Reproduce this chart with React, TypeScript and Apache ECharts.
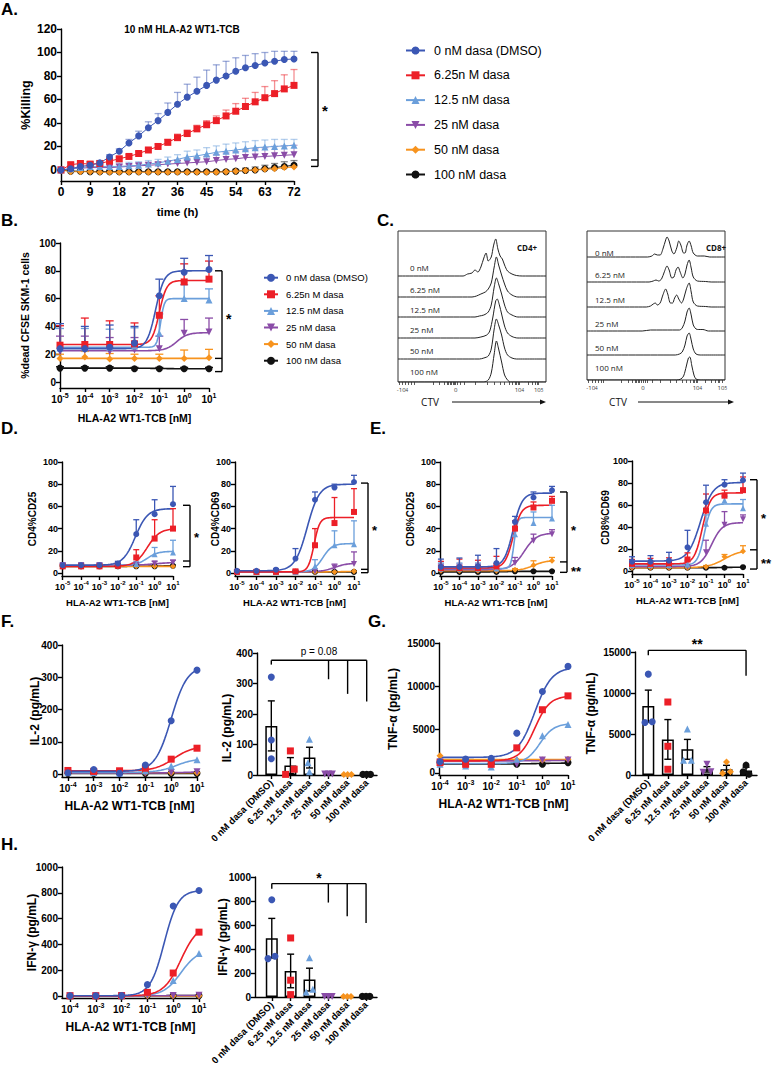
import React, { useEffect, useRef } from "react";
import * as echarts from "echarts";

const FONT = "'Liberation Sans', Arial, Helvetica, sans-serif";
const FLOW_FONT = "'Open Sans', 'Noto Sans', sans-serif";

// ---------- groups ----------
const GROUP_NAMES = ["0 nM dasa (DMSO)", "6.25n M dasa", "12.5 nM dasa", "25 nM dasa", "50 nM dasa", "100 nM dasa"];
const GROUP_COLORS = ["#3b57b4", "#ec1f27", "#6b9fdb", "#8a4ca7", "#f7931e", "#111111"];
const GROUP_SYMBOLS = ["circle", "rect", "triangle", "triangle", "diamond", "circle"];
const GROUP_ROTATE = [0, 0, 0, 180, 0, 0];
const BAR_CATEGORIES = ["0 nM dasa (DMSO)", "6.25 nM dasa", "12.5 nM dasa", "25 nM dasa", "50 nM dasa", "100 nM dasa"];

// ---------- A: killing over time ----------
const TIME_H = [0, 3, 6, 9, 12, 15, 18, 21, 24, 27, 30, 33, 36, 39, 42, 45, 48, 51, 54, 57, 60, 63, 66, 69, 72];
const TIME_TICKS = [0, 9, 18, 27, 36, 45, 54, 63, 72];
const KILL_TICKS = [0, 20, 40, 60, 80, 100, 120];
const KILL_MEAN = [
  [0, 1, 3, 4, 6, 11, 16, 23, 29, 36, 42, 49, 56, 62, 67, 72, 76.5, 80, 84, 87, 89, 91, 92.5, 94, 94.5],
  [0, 4.5, 5.5, 5, 5.5, 7.5, 9.5, 11.5, 14, 17, 20, 23.5, 27.5, 31, 35, 38.5, 42, 46, 50, 54, 58, 61.5, 65, 69, 72],
  [0, 1, 2, 3, 3, 3, 3, 3.5, 4, 5, 6, 7.5, 9, 11, 12, 13.5, 15, 16, 17, 18, 19, 19.5, 20, 20.5, 21],
  [0, 1, 1.5, 2, 2, 2, 2.5, 3, 3.5, 4, 4.5, 5, 5.5, 6, 6.5, 7, 8, 9, 9.5, 10.5, 11, 11.5, 12, 12.5, 13],
  [0, -1.5, -1.5, -1.5, -2, -2, -2, -2, -2, -2, -2, -2, -2, -2, -2, -2, -2, -1.5, -1, -0.5, 0, 0.5, 1, 2, 2.5],
  [0, -1, -1, -1.5, -1.5, -1.5, -1.5, -1.5, -1.5, -1.5, -1.5, -1.5, -1.5, -1.5, -1.5, -1.5, -1.5, -1.5, -1, -0.5, 0, 1, 2, 3, 4],
];
const KILL_SD = [
  [0, 2, 3, 3, 2, 2, 2, 3, 4, 5, 6, 8, 10, 11, 12, 13, 13, 12.5, 11.5, 10.5, 10, 9, 8.5, 7, 6.5],
  [0, 1.5, 1.5, 1.5, 1.5, 1.5, 1.5, 1.5, 1.5, 1.5, 2, 2.5, 3, 3, 3, 3.5, 4, 5, 6.5, 7, 8, 9.5, 11, 12, 13.5],
  [0, 1.5, 3, 4, 3, 3, 3, 3, 3, 3, 3, 3.5, 4, 5, 5, 5.5, 5.5, 6, 6, 6, 6, 6, 6, 5.5, 5],
  [0, 1, 1.5, 2, 2, 2, 2, 2, 2, 2, 2, 2.5, 3, 3.5, 4, 4.5, 5, 5.5, 6, 6.5, 7, 7.5, 8, 8, 8],
  [0, 1, 1, 1, 1, 1, 1, 1, 1, 1, 1, 1, 1, 1, 1, 1, 1, 1, 1, 1, 1, 1, 1, 1, 1],
  [0, 1, 1, 1, 1, 1, 1, 1, 1, 1, 1, 1, 1, 1, 1, 1, 1, 1, 1.5, 2, 2.5, 3, 3.5, 4, 4],
];
const KILL_BRACKET = [100, 8.5, 3];

// ---------- dose axes ----------
const CONC_7 = [1e-5, 1e-4, 1e-3, 1e-2, 1e-1, 1, 10];
const CONC_6 = [1e-4, 1e-3, 1e-2, 1e-1, 1, 10];
const LOG7 = [-5, -4, -3, -2, -1, 0, 1];
const LOG6 = [-4, -3, -2, -1, 0, 1];
const PCT_TICKS = [0, 20, 40, 60, 80, 100];

// ---------- B: % dead ----------
const DEAD_MEAN = [
  [24, 24, 25, 28, 62, 79, 81],
  [26.5, 27, 27, 27.5, 48, 72, 74],
  [24.5, 24.5, 25, 26, 35, 60, 59],
  [22, 23, 22, 23, 24, 35, 36],
  [17, 18, 16.5, 17, 17, 17, 17.5],
  [10, 10, 10, 9.5, 9.5, 9.5, 9.5],
];
const DEAD_ERR = [
  [18, 16, 16, 12, 12, 10, 10],
  [14, 19, 17, 15, 14, 13, 13],
  [14, 14, 13, 13, 14, 10, 8],
  [11, 10, 10, 9, 9, 10, 10],
  [3, 4, 4, 3, 3, 6, 6],
  [1, 1, 1, 1, 1, 1, 1],
];
// [bottom, top, logEC50, hill]
const DEAD_FIT = [
  [24, 80, -1.15, 2.5],
  [27, 73, -1.0, 3],
  [25, 60, -0.95, 6],
  [22.5, 35.5, -0.3, 2],
  [17, 17, 0, 1],
  [10, 9.5, -1, 1],
];
const DEAD_BRACKET = [80, 17, 7.5];

// ---------- D: CD4 ----------
const CD4_CD25_MEAN = [
  [7, 7, 7, 8.5, 35, 53, 62],
  [6, 6, 6, 6.5, 14, 31, 40],
  [7, 7, 7, 7, 8, 17, 18.5],
  [7, 7, 7, 7, 7.5, 8.5, 9.5],
  [6, 6, 6, 6, 6, 6, 6],
  [6, 6, 6, 6, 6, 6, 6.5],
];
const CD4_CD25_ERR = [
  [2, 2, 2, 2, 13, 13, 16],
  [1.5, 1.5, 1.5, 1.5, 7, 17, 18],
  [1, 1, 1, 1, 2, 6, 11],
  [1, 1, 1, 1, 1, 2, 2],
  [0.5, 0.5, 0.5, 0.5, 0.5, 0.5, 0.5],
  [0.5, 0.5, 0.5, 0.5, 0.5, 0.5, 0.5],
];
const CD4_CD25_FIT = [
  [7, 58, -1.05, 1.3],
  [6, 40, -0.4, 1.3],
  [7, 19.5, -0.4, 1.5],
  [7, 9.5, 0, 1],
  [6, 6, 0, 1],
  [6, 6.5, 0, 1],
];
const CD4_CD25_BRACKET = [61, 10.8, 5.7];

const CD4_CD69_MEAN = [
  [2, 2, 3, 13, 66, 77, 82],
  [1, 1, 1, 1.5, 25, 45, 55],
  [1, 1, 1, 1, 6, 25, 26],
  [1, 1, 1, 1, 1.5, 5, 8],
  [1, 1, 1, 1, 1, 1, 1.5],
  [1, 1, 1, 1, 1, 1, 1],
];
const CD4_CD69_ERR = [
  [1, 1, 1, 9, 7, 3, 6],
  [1, 1, 1, 1, 15, 23, 21],
  [1, 1, 1, 1, 6, 13, 21],
  [1, 1, 1, 1, 1, 3, 11],
  [0.5, 0.5, 0.5, 0.5, 0.5, 0.5, 0.5],
  [0.5, 0.5, 0.5, 0.5, 0.5, 0.5, 0.5],
];
const CD4_CD69_FIT = [
  [2, 80, -1.4, 1.4],
  [1, 50, -1.05, 3],
  [1, 26.5, -0.6, 1.8],
  [1, 9, 0, 1.3],
  [1, 1.5, 0.5, 1],
  [1, 1, 0, 1],
];
const CD4_CD69_BRACKET = [81, 3.3, 0.3];

// ---------- E: CD8 ----------
const CD8_CD25_MEAN = [
  [5.5, 5.5, 6, 9, 46, 68, 74.5],
  [4.5, 4.5, 4.5, 6, 40, 59, 65],
  [4, 4, 4, 4, 35, 45, 49],
  [3, 3, 3, 3.5, 9, 29, 35],
  [2, 2, 2, 2, 3, 7, 11],
  [1, 1, 1, 1, 1.5, 1.5, 1.5],
];
const CD8_CD25_ERR = [
  [7, 8, 10, 13, 5, 5, 3.5],
  [6, 8, 7, 9, 7, 5, 4],
  [5, 5, 5, 5, 5, 10, 12],
  [5, 5, 5, 5, 5, 6, 4],
  [1, 1, 1, 1, 1, 4, 3],
  [0.5, 0.5, 0.5, 0.5, 0.5, 0.5, 0.5],
];
const CD8_CD25_FIT = [
  [5.5, 72, -1.1, 1.8],
  [4.5, 61, -1.1, 2],
  [4, 50, -1.05, 5],
  [3, 36, -0.5, 1.3],
  [2, 11.5, 0, 1.2],
  [1, 1.5, -1.5, 1],
];
const CD8_CD25_BRACKET = [73, 10, 0.6];

const CD8_CD69_MEAN = [
  [8.5, 8.5, 9.5, 21.5, 62.5, 78.5, 82.5],
  [6.5, 6.5, 7, 10.5, 55, 68.5, 73.5],
  [5.5, 5.5, 5.5, 6, 43, 64, 57],
  [4, 4, 4, 4, 17, 42, 47],
  [3, 3, 3, 3, 4, 13, 18],
  [3, 3, 3, 3, 3, 3, 3.5],
];
const CD8_CD69_ERR = [
  [4.5, 5.5, 7.5, 15.5, 15.5, 4.5, 6.5],
  [4, 5, 5, 6, 15, 5, 12],
  [4, 4, 4, 4, 8, 4, 8],
  [5, 5, 5, 5, 11, 12, 4],
  [1, 1, 1, 1, 1, 2, 5],
  [0.5, 0.5, 0.5, 0.5, 0.5, 0.5, 0.5],
];
const CD8_CD69_FIT = [
  [9, 80.5, -1.3, 1.3],
  [6.5, 71, -1.2, 2],
  [5.5, 61, -1.1, 2.5],
  [4, 44, -0.7, 1.5],
  [3, 19, 0, 1],
  [3, 3.5, 0, 1],
];
const CD8_CD69_BRACKET = [83, 19.3, 1.8];

// ---------- F/G/H: cytokines ----------
const IL2_TICKS = [0, 100, 200, 300, 400];
const TNF_TICKS = [0, 5000, 10000, 15000];
const IFN_TICKS = [0, 200, 400, 600, 800, 1000];

const IL2_MEAN = [
  [4, 14, 2, 28, 165, 322],
  [11, 8, 10, 18, 46, 80],
  [5, 5, 3, 10, 25, 44],
  [3, 3, 3, 3, 5, 7],
  [4, 4, 4, 4, 4, 4],
  [2, 2, 2, 2, 2, 2],
];
const IL2_FIT = [
  [8, 335, 0, 1.4],
  [10, 86, 0.1, 1.2],
  [5, 48, 0.2, 1.2],
  [3, 7, 0.5, 1],
  [4, 4, 0, 1],
  [2, 2, 0, 1],
];
const TNF_MEAN = [
  [1300, 1600, 1700, 4600, 9400, 12300],
  [1200, 1000, 1000, 2900, 7300, 8900],
  [1000, 800, 700, 1600, 4300, 5600],
  [1300, 900, 1200, 1000, 1500, 1500],
  [2000, 1500, 1500, 1500, 1500, 1600],
  [1200, 1100, 1100, 1000, 1000, 1200],
];
const TNF_FIT = [
  [1800, 12200, -0.3, 1.3],
  [1400, 8900, -0.3, 1.5],
  [1100, 5700, -0.1, 1.6],
  [1400, 1450, 0, 1],
  [1550, 1550, 0, 1],
  [1050, 1150, 0, 1],
];
const IFN_MEAN = [
  [2, 2, 3, 88, 698, 818],
  [1, 1, 2, 28, 178, 495],
  [1, 1, 1, 25, 120, 330],
  [1, 1, 3, 3, 4, 5],
  [1, 1, 1, 1, 1, 1],
  [0, 0, 0, 5, 3, 3],
];
const IFN_FIT = [
  [2, 820, -0.35, 1.6],
  [1, 560, 0.3, 1.3],
  [1, 360, 0.3, 1.3],
  [1, 5, 0, 1],
  [1, 1, 0, 1],
  [0, 3, -1, 1],
];

const IL2_BAR_MEAN = [161, 31, 57, 3, 2, 2];
const IL2_BAR_SEM = [82, 26, 34, 0.5, 0.5, 0.5];
const IL2_DOTS = [[321, 115, 53], [79, 2, 19], [117, 40, 11], [3, 3, 3], [2, 2, 2], [2, 2, 2]];
const IL2_JITTER = [[0, 0, 0], [0, -0.25, 0.2], [0, -0.08, 0], [-0.2, 0, 0.2], [-0.2, 0, 0.2], [-0.2, 0, 0.2]];
const IL2_SIG = { y: 376, ends: [[0, 362], [3, 314], [4, 266], [5, 241]], label: "p = 0.08" };

const TNF_BAR_MEAN = [8400, 4340, 3130, 690, 700, 550];
const TNF_BAR_SEM = [1950, 2420, 1210, 330, 480, 400];
const TNF_DOTS = [[12300, 6400, 6500], [8900, 3500, 700], [5600, 1800, 1800], [1300, 350, 400], [1600, 200, 400], [1200, 400, 100]];
const TNF_JITTER = [[0, -0.17, 0.2], [0, 0, 0], [0, -0.2, 0.2], [0, -0.2, 0.2], [0, -0.2, 0.2], [0, -0.15, 0.15]];
const TNF_SIG = { y: 15200, ends: [[0, 14600], [5, 12100]], label: "**" };

const IFN_BAR_MEAN = [490, 217, 145, 5, 5, 5];
const IFN_BAR_SEM = [165, 140, 95, 1, 1, 1];
const IFN_DOTS = [[811, 320, 340], [492, 140, 20], [328, 42, 64], [5, 5, 5], [5, 5, 5], [5, 5, 5]];
const IFN_JITTER = [[0, -0.2, 0.17], [0, 0, 0], [0, -0.18, 0.18], [-0.2, 0, 0.2], [-0.2, 0, 0.2], [-0.2, 0, 0.2]];
const IFN_SIG = { y: 945, ends: [[0, 903], [3, 787], [4, 672], [5, 617]], label: "*" };

// ---------- C: CTV histograms (x: % of box width, h: height above row baseline) ----------
const C_ROW_LABELS = ["0 nM", "6.25 nM", "12.5 nM", "25 nM", "50 nM", "100 nM"];
const CTV_LABELS = ["-10{s|4}", "0", "10{s|4}", "10{s|5}"];
const CD4_LABEL_POS = [3, 39, 82, 95];
const CD8_LABEL_POS = [3.6, 40.6, 80, 98];
const CD4_TICKS = [1, 3, 5, 7, 9, 11, 24, 28, 31, 33, 34, 35, 36, 37, 38, 39, 40, 42, 45, 52, 60, 65, 69, 72, 75, 77, 79, 80, 81, 82, 88, 91, 93, 94, 95];
const CD8_TICKS = [1, 3.6, 6, 8, 10, 12, 25, 30, 33, 35, 36, 37, 38, 39, 40.6, 42, 44, 47, 53, 60, 65, 69, 72, 75, 77, 78, 79, 80, 86, 90, 93, 95, 96, 98];
const CD4_HIST = [
  [[0, 0], [44, 0], [47, 2], [50, 3], [52, 6], [54, 4], [56, 9], [58, 18], [59.5, 23], [61, 15], [63, 19], [64.5, 30], [66, 37], [67.5, 27], [69, 20], [70.5, 17], [72, 11], [74, 5], [77, 2], [80, 0.5], [84, 0], [100, 0]],
  [[0, 0], [50, 0], [53, 1], [56, 3], [59, 5], [61, 8], [63, 14], [65, 30], [66.5, 40], [68, 32], [70, 22], [72, 13], [74, 6], [77, 2], [81, 0], [100, 0]],
  [[0, 0], [52, 0], [55, 1], [58, 2], [61, 5], [63, 12], [65, 30], [66.5, 39], [68, 33], [70, 23], [72, 12], [74, 5], [77, 2], [81, 0], [100, 0]],
  [[0, 0], [52, 0], [56, 1], [60, 3], [62, 7], [64, 20], [66, 37], [67, 39], [68.5, 33], [70, 24], [72, 12], [74, 5], [77, 1.5], [81, 0], [100, 0]],
  [[0, 0], [55, 0], [58, 1], [61, 3], [63, 10], [65, 30], [66.5, 40], [68, 34], [70, 24], [72, 11], [74, 4], [77, 1], [80, 0], [100, 0]],
  [[0, 0], [58, 0], [61, 2], [63, 9], [65, 28], [66.5, 41], [68, 33], [70, 20], [72, 7], [74, 2], [76, 0], [100, 0]],
];
const CD8_HIST = [
  [[0, 0], [44, 0], [47, 1], [49, 3], [51, 2], [53, 2], [55, 8], [57, 17], [58, 20], [59.5, 16], [61.5, 6], [63, 3], [65, 9], [66.5, 16], [68, 12], [70, 4], [71, 4], [72.5, 12], [74, 16], [75.5, 11], [77, 4], [80, 1], [85, 1], [89, 0], [100, 0]],
  [[0, 0], [45, 0], [48, 1], [50, 2], [52, 1], [54, 3], [56, 10], [58, 16], [59.5, 12], [61.5, 4], [63, 5], [64.5, 12], [66, 15], [67.5, 10], [69.5, 4], [71, 8], [72.5, 17], [74, 22], [75.5, 14], [77, 5], [80, 1], [86, 0.5], [90, 0], [100, 0]],
  [[0, 0], [43, 0], [46, 1], [48, 3], [49.5, 4], [51, 2], [53, 4], [55, 12], [57, 18], [58.5, 13], [60.5, 4], [62, 4], [63.5, 9], [65, 12], [66.5, 8], [68.5, 4], [70, 8], [72, 18], [74, 24], [75.5, 15], [77, 5], [80, 1], [86, 0.5], [90, 0], [100, 0]],
  [[0, 0], [40, 0], [46, 1], [55, 1], [62, 1], [67, 1], [69, 3], [71, 10], [72.5, 19], [74, 23], [75.5, 16], [77, 6], [79, 2], [81, 1.5], [84, 1.5], [88, 0], [100, 0]],
  [[0, 0], [64, 0], [67, 1], [69, 3], [71, 10], [72.5, 19], [74, 22], [75.5, 15], [77, 6], [79, 1], [82, 0], [100, 0]],
  [[0, 0], [65, 0], [68, 1], [70, 4], [72, 14], [73.5, 22], [74.5, 23], [76, 14], [77.5, 5], [79, 1], [82, 0], [100, 0]],
];

// ---------- helpers ----------
function fitCurve(f: number[], x0: number, x1: number) {
  const [bottom, top, logEC50, hill] = f;
  const out: number[][] = [];
  const n = 100;
  for (let i = 0; i <= n; i++) {
    const x = x0 + ((x1 - x0) * i) / n;
    out.push([x, bottom + (top - bottom) / (1 + Math.pow(10, (logEC50 - x) * hill))]);
  }
  return out;
}

const bold = (fs: number) => ({ fontFamily: FONT, fontWeight: "bold", fontSize: fs, color: "#000" });
const supRich = (fs: number) => ({
  b: { ...bold(fs), lineHeight: fs + 4 },
  s: { ...bold(Math.round(fs * 0.68)), verticalAlign: "top", lineHeight: Math.round(fs * 0.68) + 1 },
});

function buildOption() {
  const grid: any[] = [];
  const xAxis: any[] = [];
  const yAxis: any[] = [];
  const series: any[] = [];
  const AX = { color: "#000", width: 1.4 };

  const add = (l: number[], xa: any, ya: any, gridExtra: any = {}) => {
    grid.push({ left: l[0], top: l[1], width: l[2], height: l[3], containLabel: false, outerBoundsMode: "none", ...gridExtra });
    const gi = grid.length - 1;
    xAxis.push({ gridIndex: gi, splitLine: { show: false }, ...xa });
    yAxis.push({ gridIndex: gi, splitLine: { show: false }, ...ya });
    return gi;
  };

  const yVal = (min: number, max: number, ticks: number[], fs: number, name: string, nameGap: number, nameFs: number, namePad: any = 0) => ({
    type: "value",
    min,
    max,
    axisLine: { show: true, onZero: false, lineStyle: AX },
    axisTick: { show: true, length: 4, customValues: ticks, lineStyle: AX },
    axisLabel: { customValues: ticks, margin: 4, formatter: (v: any) => String(v), ...bold(fs) },
    name,
    nameLocation: "middle",
    nameGap,
    nameMoveOverlap: false,
    nameTextStyle: { ...bold(nameFs), padding: namePad },
  });

  const xLog = (min: number, max: number, exps: number[], fs: number, nameGap: number, nameFs: number) => ({
    type: "value",
    min,
    max,
    axisLine: { show: true, onZero: false, lineStyle: AX },
    axisTick: { show: true, length: 4, customValues: exps, lineStyle: AX },
    axisLabel: { customValues: exps, margin: 4, formatter: (v: any) => `{b|10}{s|${v}}`, rich: supRich(fs) },
    name: "HLA-A2 WT1-TCB [nM]",
    nameLocation: "middle",
    nameGap,
    nameMoveOverlap: false,
    nameTextStyle: bold(nameFs),
  });

  const errUp = (i: number, xs: number[], means: number[], errs: number[], color: string, cap: number, opacity = 1) => ({
    type: "custom",
    xAxisIndex: i,
    yAxisIndex: i,
    silent: true,
    z: 3,
    encode: { x: 0, y: 1 },
    data: xs.map((x, k) => [x, means[k], errs[k]]),
    renderItem: (_p: any, api: any) => {
      const x = api.value(0), y = api.value(1), e = api.value(2);
      const a = api.coord([x, y]);
      const b = api.coord([x, y + e]);
      const st = { stroke: color, lineWidth: 1.3, opacity };
      return {
        type: "group",
        children: [
          { type: "line", shape: { x1: a[0], y1: a[1], x2: b[0], y2: b[1] }, style: st },
          { type: "line", shape: { x1: b[0] - cap, y1: b[1], x2: b[0] + cap, y2: b[1] }, style: st },
        ],
      };
    },
  });

  // ---- A ----
  const iA = add(
    [61, 29, 233, 152],
    {
      type: "value",
      min: 0,
      max: 72,
      axisLine: { show: true, onZero: false, lineStyle: AX },
      axisTick: { show: true, length: 4, customValues: TIME_TICKS, lineStyle: AX },
      axisLabel: { customValues: TIME_TICKS, margin: 5, ...bold(12) },
      name: "time (h)",
      nameLocation: "middle",
      nameGap: 25,
      nameMoveOverlap: false,
      nameTextStyle: bold(11.5),
    },
    yVal(-9.4, 120, KILL_TICKS, 12, "%Killing", 29, 12.5)
  );
  for (let g = 5; g >= 0; g--) {
    const color = GROUP_COLORS[g];
    series.push(errUp(iA, TIME_H, KILL_MEAN[g], KILL_SD[g], color, 3.5, 0.5));
    series.push({
      type: "line",
      name: GROUP_NAMES[g],
      xAxisIndex: iA,
      yAxisIndex: iA,
      data: TIME_H.map((t, k) => [t, KILL_MEAN[g][k]]),
      symbol: GROUP_SYMBOLS[g],
      symbolRotate: GROUP_ROTATE[g],
      symbolSize: 7,
      showSymbol: true,
      lineStyle: { color, width: 1 },
      itemStyle: { color },
      z: 4,
      silent: true,
    });
  }

  // ---- dose-response panels ----
  const dose = (p: any) => {
    const i = add(p.l, xLog(p.xMin, 1, p.exps, p.fs, p.xNameGap, p.xNameFs), yVal(p.yMin, p.yMax, p.yTicks, p.fs, p.yName, p.yNameGap, p.yNameFs));
    const xs = p.conc.map((c: number) => Math.log10(c));
    for (let g = 5; g >= 0; g--) {
      const color = GROUP_COLORS[g];
      series.push({
        type: "line",
        xAxisIndex: i,
        yAxisIndex: i,
        data: fitCurve(p.fits[g], xs[0], xs[xs.length - 1]),
        showSymbol: false,
        symbol: "none",
        lineStyle: { color, width: 1.6 },
        itemStyle: { color },
        z: 2,
        silent: true,
      });
      if (p.errs) series.push(errUp(i, xs, p.means[g], p.errs[g], color, p.cap));
      series.push({
        type: "scatter",
        xAxisIndex: i,
        yAxisIndex: i,
        data: xs.map((x: number, k: number) => [x, p.means[g][k]]),
        symbol: GROUP_SYMBOLS[g],
        symbolRotate: GROUP_ROTATE[g],
        symbolSize: p.sym,
        itemStyle: { color, opacity: 1 },
        z: 4,
        silent: true,
      });
    }
    return i;
  };

  const iB = dose({ l: [60, 243, 149, 145], xMin: -5, exps: LOG7, conc: CONC_7, means: DEAD_MEAN, errs: DEAD_ERR, fits: DEAD_FIT, yMin: -4.3, yMax: 100, yTicks: PCT_TICKS, fs: 10, yName: "%dead CFSE SKM-1 cells", yNameGap: 30, yNameFs: 10.5, xNameGap: 24, xNameFs: 10.5, sym: 7, cap: 4 });
  const common = { exps: LOG7, conc: CONC_7, yMin: -2.7, yMax: 100, yTicks: PCT_TICKS, fs: 9, yNameFs: 10, xNameGap: 21, xNameFs: 9.5, sym: 6, cap: 3 };
  const iD1 = dose({ ...common, l: [62, 462, 111, 114], xMin: -5.04, means: CD4_CD25_MEAN, errs: CD4_CD25_ERR, fits: CD4_CD25_FIT, yName: "CD4%CD25", yNameGap: 25 });
  const iD2 = dose({ ...common, l: [235, 462, 119, 114], xMin: -5.1, means: CD4_CD69_MEAN, errs: CD4_CD69_ERR, fits: CD4_CD69_FIT, yName: "CD4%CD69", yNameGap: 15 });
  const iE1 = dose({ ...common, l: [440, 462, 112, 114], xMin: -5.05, means: CD8_CD25_MEAN, errs: CD8_CD25_ERR, fits: CD8_CD25_FIT, yName: "CD8%CD25", yNameGap: 25 });
  const iE2 = dose({ ...common, l: [632, 461, 111, 113], xMin: -5, means: CD8_CD69_MEAN, errs: CD8_CD69_ERR, fits: CD8_CD69_FIT, yName: "CD8%CD69", yNameGap: 22 });

  const cyto = { exps: LOG6, conc: CONC_6, errs: null, fs: 10, yNameFs: 12, xNameGap: 23, xNameFs: 12, sym: 7, cap: 3 };
  const iFL = dose({ ...cyto, l: [62, 645, 135, 132], xMin: -4.23, means: IL2_MEAN, fits: IL2_FIT, yMin: -9.3, yMax: 400, yTicks: IL2_TICKS, yName: "IL-2 (pg/mL)", yNameGap: 21 });
  const iGL = dose({ ...cyto, l: [439, 643, 129, 132], xMin: -4.04, means: TNF_MEAN, fits: TNF_FIT, yMin: -231, yMax: 15000, yTicks: TNF_TICKS, yName: "TNF-α (pg/mL)", yNameGap: 40 });
  const iHL = dose({ ...cyto, l: [62, 867, 137, 131], xMin: -4.31, means: IFN_MEAN, fits: IFN_FIT, yMin: -15.5, yMax: 1000, yTicks: IFN_TICKS, yName: "IFN-γ (pg/mL)", yNameGap: 24 });

  // ---- bar panels ----
  const catIdx = [0, 1, 2, 3, 4, 5];
  const bars = (p: any) => {
    const i = add(
      p.l,
      {
        type: "value",
        min: p.xMin,
        max: p.xMax,
        axisLine: { show: true, onZero: false, lineStyle: AX },
        axisTick: { show: true, length: 4, customValues: catIdx, lineStyle: AX },
        axisLabel: { customValues: catIdx, rotate: 45, margin: 6, formatter: (v: any) => BAR_CATEGORIES[Math.round(v)], ...bold(9.5) },
      },
      yVal(0, p.yMax, p.yTicks, 10, p.yName, p.yNameGap, 12, p.namePad || 0)
    );
    series.push({
      type: "bar",
      xAxisIndex: i,
      yAxisIndex: i,
      data: p.means.map((m: number, k: number) => [k, m]),
      barWidth: 12,
      itemStyle: { color: "#fff", borderColor: "#000", borderWidth: 1.5 },
      z: 1,
      silent: true,
    });
    series.push({
      type: "custom",
      xAxisIndex: i,
      yAxisIndex: i,
      silent: true,
      z: 3,
      encode: { x: 0, y: 1 },
      data: p.means.map((m: number, k: number) => [k, m, p.sems[k]]),
      renderItem: (_pp: any, api: any) => {
        const x = api.value(0), m = api.value(1), s = api.value(2);
        const a = api.coord([x, m - s]);
        const b = api.coord([x, m + s]);
        const st = { stroke: "#000", lineWidth: 1.4 };
        return {
          type: "group",
          children: [
            { type: "line", shape: { x1: a[0], y1: a[1], x2: b[0], y2: b[1] }, style: st },
            { type: "line", shape: { x1: a[0] - 3.5, y1: a[1], x2: a[0] + 3.5, y2: a[1] }, style: st },
            { type: "line", shape: { x1: b[0] - 3.5, y1: b[1], x2: b[0] + 3.5, y2: b[1] }, style: st },
          ],
        };
      },
    });
    for (let g = 5; g >= 0; g--) {
      series.push({
        type: "scatter",
        xAxisIndex: i,
        yAxisIndex: i,
        data: p.dots[g].map((v: number, k: number) => [g + p.jitter[g][k], v]),
        symbol: GROUP_SYMBOLS[g],
        symbolRotate: GROUP_ROTATE[g],
        symbolSize: 7,
        itemStyle: { color: GROUP_COLORS[g], opacity: 1 },
        z: 4,
        silent: true,
      });
    }
    return i;
  };
  const iFR = bars({ l: [257, 653, 120, 122], xMin: -0.75, xMax: 5.54, means: IL2_BAR_MEAN, sems: IL2_BAR_SEM, dots: IL2_DOTS, jitter: IL2_JITTER, yMax: 400, yTicks: IL2_TICKS, yName: "IL-2 (pg/mL)", yNameGap: 24, namePad: [0, 28, 0, 0] });
  const iGR = bars({ l: [635, 652, 122, 123], xMin: -0.68, xMax: 5.56, means: TNF_BAR_MEAN, sems: TNF_BAR_SEM, dots: TNF_DOTS, jitter: TNF_JITTER, yMax: 15000, yTicks: TNF_TICKS, yName: "TNF-α (pg/mL)", yNameGap: 38 });
  const iHR = bars({ l: [255, 877, 122, 120], xMin: -0.89, xMax: 5.58, means: IFN_BAR_MEAN, sems: IFN_BAR_SEM, dots: IFN_DOTS, jitter: IFN_JITTER, yMax: 1000, yTicks: IFN_TICKS, yName: "IFN-γ (pg/mL)", yNameGap: 26 });

  // ---- C: histograms ----
  const flow = (l: number[], labelPos: number[], ticks: number[], hist: number[][][], base: number[]) => {
    const i = add(
      l,
      {
        type: "value",
        min: 0,
        max: 100,
        axisLine: { show: false },
        axisTick: { show: true, length: 3, customValues: ticks, lineStyle: { color: "#333", width: 0.8 } },
        axisLabel: {
          customValues: labelPos,
          margin: 5,
          fontFamily: FLOW_FONT,
          fontSize: 6,
          color: "#333",
          formatter: (v: any) => {
            const k = labelPos.findIndex((p) => Math.abs(p - v) < 1e-6);
            return k >= 0 ? CTV_LABELS[k] : "";
          },
          rich: { s: { fontFamily: FLOW_FONT, fontSize: 4.5, color: "#333", verticalAlign: "top", lineHeight: 5 } },
        },
      },
      { type: "value", min: 0, max: l[3], show: false },
      { show: true, borderColor: "#333", borderWidth: 1, backgroundColor: "transparent" }
    );
    hist.forEach((h, r) => {
      series.push({
        type: "line",
        xAxisIndex: i,
        yAxisIndex: i,
        data: h.map(([x, v]) => [x, base[r] + v]),
        smooth: 0.3,
        showSymbol: false,
        symbol: "none",
        lineStyle: { color: "#222", width: 1 },
        z: 2,
        silent: true,
      });
    });
    return i;
  };
  const iC4 = flow([398, 231, 148, 151], CD4_LABEL_POS, CD4_TICKS, CD4_HIST, [106, 85, 65, 44, 23, 0]);
  const iC8 = flow([587, 231, 138, 149], CD8_LABEL_POS, CD8_TICKS, CD8_HIST, [123, 98, 73, 49, 25, 0]);

  const legendText = (fs: number, pad: number) => ({ fontFamily: FONT, fontSize: fs, color: "#000", padding: [0, 0, 0, pad] });
  const option = {
    animation: false,
    backgroundColor: "#fff",
    grid,
    xAxis,
    yAxis,
    series,
    legend: [
      { data: GROUP_NAMES, orient: "vertical", left: 400, top: 39, itemWidth: 19, itemHeight: 10, itemGap: 11.8, selectedMode: false, textStyle: legendText(12.5, 4) },
      { data: GROUP_NAMES, orient: "vertical", left: 258, top: 267.7, itemWidth: 14, itemHeight: 10, itemGap: 6.6, selectedMode: false, textStyle: legendText(9.5, 3) },
    ],
  };
  return { option, ix: { iA, iB, iC4, iC8, iD1, iD2, iE1, iE2, iFL, iFR, iGL, iGR, iHL, iHR } };
}

function buildGraphics(chart: any, ix: any) {
  const g: any[] = [];
  const P = (i: number, x: number, y: number) => chart.convertToPixel({ xAxisIndex: i, yAxisIndex: i }, [x, y]) as number[];
  const text = (t: string, x: number, y: number, font: string, align = "left", va = "top", fill = "#000") => ({
    type: "text",
    silent: true,
    style: { text: t, x, y, font, fill, textAlign: align, textVerticalAlign: va },
  });
  const line = (x1: number, y1: number, x2: number, y2: number, w = 1.4, color = "#000") => ({
    type: "line",
    silent: true,
    shape: { x1, y1, x2, y2 },
    style: { stroke: color, lineWidth: w },
  });

  // panel letters
  const LET = `bold 17px ${FONT}`;
  [["A.", 1, 1], ["B.", 1, 212], ["C.", 377, 212], ["D.", 1, 420], ["E.", 370, 420], ["F.", 1, 613], ["G.", 368, 613], ["H.", 1, 836]].forEach(
    ([t, x, y]: any) => g.push(text(t, x, y, LET))
  );
  g.push(text("10 nM HLA-A2 WT1-TCB", 182, 29, `bold 10px ${FONT}`, "center", "middle"));

  // brackets at the right of dose-response panels
  const bracket = (i: number, xRef: number, ys: number[], dx: number, labels: string[], fs: number) => {
    const pts = ys.map((v) => P(i, xRef, v));
    const x = pts[0][0] + dx;
    const yy = pts.map((p) => p[1]);
    g.push(line(x, yy[0], x, yy[yy.length - 1]));
    yy.forEach((y) => g.push(line(x - 7, y, x, y)));
    labels.forEach((lab, k) => {
      if (lab) g.push(text(lab, x + 4, (yy[k] + yy[k + 1]) / 2 + 4, `bold ${fs}px ${FONT}`, "left", "middle"));
    });
  };
  bracket(ix.iA, 72, KILL_BRACKET, 24, ["*", ""], 15);
  bracket(ix.iB, 1, DEAD_BRACKET, 13, ["*", ""], 14);
  bracket(ix.iD1, 1, CD4_CD25_BRACKET, 17, ["*", ""], 13);
  bracket(ix.iD2, 1, CD4_CD69_BRACKET, 14, ["*", ""], 13);
  bracket(ix.iE1, 1, CD8_CD25_BRACKET, 15, ["*", "**"], 13);
  bracket(ix.iE2, 1, CD8_CD69_BRACKET, 14, ["*", "**"], 13);

  // significance lines over bar charts
  const sig = (i: number, s: any, font: string, dy: number) => {
    const a = P(i, s.ends[0][0], s.y);
    const b = P(i, s.ends[s.ends.length - 1][0], s.y);
    g.push(line(a[0], a[1], b[0], b[1]));
    s.ends.forEach(([cx, cy]: number[]) => {
      const p0 = P(i, cx, s.y);
      const p1 = P(i, cx, cy);
      g.push(line(p0[0], p0[1], p1[0], p1[1]));
    });
    const m = P(i, 2.5, s.y);
    g.push(text(s.label, m[0], m[1] - dy, font, "center", "middle"));
  };
  sig(ix.iFR, IL2_SIG, `10px ${FONT}`, 9);
  sig(ix.iGR, TNF_SIG, `bold 14px ${FONT}`, 6);
  sig(ix.iHR, IFN_SIG, `bold 14px ${FONT}`, 6);

  // C labels
  const rowFont = `8px ${FLOW_FONT}`;
  [267, 289, 309, 329, 350, 371].forEach((y, r) => g.push(text(C_ROW_LABELS[r], 410, y, rowFont, "left", "middle", "#222")));
  [252, 274, 299, 323, 347, 367].forEach((y, r) => g.push(text(C_ROW_LABELS[r], 595, y, rowFont, "left", "middle", "#222")));
  g.push(text("CD4+", 527, 247, `bold 8px ${FLOW_FONT}`, "center", "middle", "#111"));
  g.push(text("CD8+", 716, 247, `bold 8px ${FLOW_FONT}`, "center", "middle", "#111"));
  const ctv = (x: number, x1: number, x2: number) => {
    g.push(text("CTV", x, 402, `10px ${FLOW_FONT}`, "center", "middle", "#111"));
    g.push(line(x1, 402, x2 - 4, 402, 1, "#111"));
    g.push({ type: "polygon", silent: true, shape: { points: [[x2, 402], [x2 - 6, 399.5], [x2 - 6, 404.5]] }, style: { fill: "#111" } });
  };
  ctv(430, 452, 546);
  ctv(618, 638, 734);
  return g;
}

export default function App() {
  const ref = useRef<HTMLDivElement>(null);
  useEffect(() => {
    document.body.style.margin = "0";
    const chart = echarts.init(ref.current as HTMLDivElement, null, { renderer: "svg" });
    const { option, ix } = buildOption();
    chart.setOption(option as any);
    chart.setOption({ graphic: buildGraphics(chart, ix) } as any);
    return () => chart.dispose();
  }, []);
  return <div ref={ref} style={{ width: 775, height: 1065 }} />;
}
